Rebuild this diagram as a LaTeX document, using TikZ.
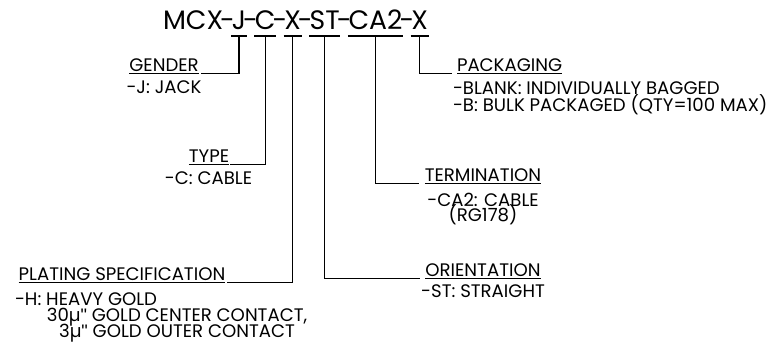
\documentclass[tikz,border=0pt]{standalone}
\usepackage{fontspec}
\setmainfont{Poppins}
\newfontfamily\qfont{Liberation Sans}
\begin{document}
\begin{tikzpicture}[x=0.75pt,y=-0.75pt,
  line width=0.8pt,
  seg/.style={inner sep=0pt, outer sep=0pt, anchor=base west,
    font=\fontsize{20}{22}\selectfont, text depth=4.5pt},
  hyph/.style={seg, inner xsep=-2.2pt},
  lbl/.style={inner sep=0pt, outer sep=0pt, anchor=base,
    font=\fontsize{13.6}{15}\selectfont},
  lblw/.style={lbl, anchor=base west},
  conn/.style={line width=0.8pt},
  ul/.style={line width=0.6pt}]
\useasboundingbox (0,0) rectangle (771,348);
% title
\node[seg] (t0) at (163,30) {MCX};
\node[hyph] (d0) at (t0.base east) {-};
\node[seg] (tJ) at (d0.base east) {J};
\node[hyph] (d1) at (tJ.base east) {-};
\node[seg] (tC) at (d1.base east) {C};
\node[hyph] (d2) at (tC.base east) {-};
\node[seg] (tX) at (d2.base east) {X};
\node[hyph] (d3) at (tX.base east) {-};
\node[seg] (tST) at (d3.base east) {ST};
\node[hyph] (d4) at (tST.base east) {-};
\node[seg] (tCA) at (d4.base east) {CA2};
\node[hyph] (d5) at (tCA.base east) {-};
\node[seg] (tP) at (d5.base east) {X};
\foreach \n in {tJ,tC,tX,tST,tCA,tP}
  \draw[conn] ([xshift=-0.5pt]\n.south west) -- ([xshift=0.5pt]\n.south east);
% labels
\node[lbl] (gender) at (164,72) {GENDER};
\node[lbl] (genderd) at (164,94) {-J: JACK};
\node[lbl] (type) at (209,163) {TYPE};
\node[lbl] (typed) at (208.5,185) {-C: CABLE};
\node[lbl] (plating) at (122,281) {PLATING SPECIFICATION};
\node[lblw] (platd1) at (15,306) {-H: HEAVY GOLD};
\node[lbl] (platd2) at (177,322) {30µ{\qfont"} GOLD CENTER CONTACT,};
\node[lbl] (platd3) at (177,338) {3µ{\qfont"} GOLD OUTER CONTACT};
\node[lbl] (term) at (483,182) {TERMINATION};
\node[lbl] (termd1) at (483,206.5) {-CA2: CABLE};
\node[lbl] (termd2) at (483,222) {(RG178)};
\node[lbl] (orient) at (483,276.5) {ORIENTATION};
\node[lbl] (orientd) at (483,297.5) {-ST: STRAIGHT};
\node[lblw] (pack) at (457,72) {PACKAGING};
\node[lblw] (packd1) at (453,95) {-BLANK: INDIVIDUALLY BAGGED};
\node[lblw] (packd2) at (453,111.5) {-B: BULK PACKAGED (QTY=100 MAX)};
% underlines
\foreach \n in {gender,type,plating,term,orient,pack}
  \draw[ul] ([yshift=-1.2pt]\n.base west) -- ([yshift=-1.2pt]\n.base east);
% connectors
\draw[conn] (tJ.south) |- ([xshift=2pt,yshift=-1.2pt]gender.base east);
\draw[conn] (tC.south) |- ([xshift=1pt,yshift=-1.2pt]type.base east);
\draw[conn] (tX.south) |- ([xshift=1.5pt,yshift=-1.2pt]plating.base east);
\draw[conn] (tST.south) |- ([xshift=-4pt,yshift=-1.2pt]orient.base west);
\draw[conn] (tCA.south) |- ([xshift=-4pt,yshift=-1.2pt]term.base west);
\draw[conn] (tP.south) |- ([xshift=-4pt,yshift=-1.2pt]pack.base west);
\end{tikzpicture}
\end{document}
